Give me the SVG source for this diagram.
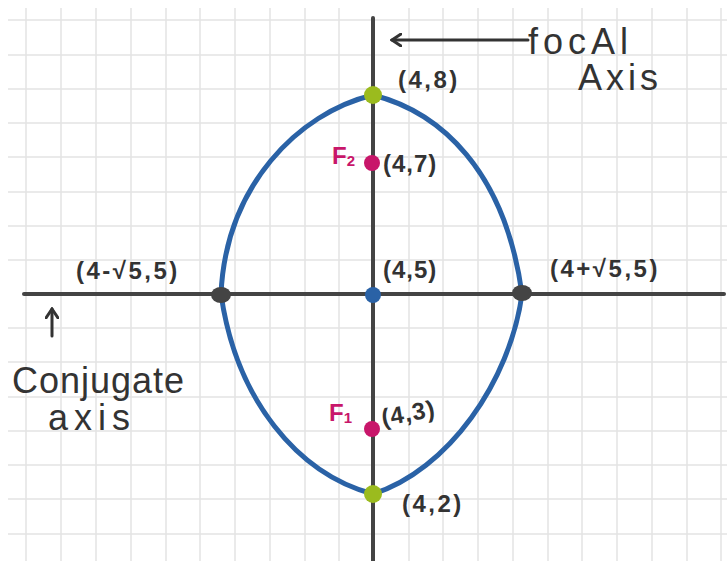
<svg xmlns="http://www.w3.org/2000/svg" width="727" height="561" viewBox="0 0 727 561">
<defs>
<style>
.grid{stroke:#e4e4e4;stroke-width:1.5;fill:none}
.axis{stroke:#444;stroke-width:4;fill:none;stroke-linecap:round}
.lbl{font-family:"Liberation Sans","DejaVu Sans",sans-serif;font-size:24px;fill:#333;font-weight:bold;letter-spacing:2.5px}
.hand{font-family:"Liberation Sans","DejaVu Sans",sans-serif;font-size:36px;fill:#333;letter-spacing:1px}
.foc{font-family:"Liberation Sans","DejaVu Sans",sans-serif;font-size:24px;fill:#c8166a;font-weight:bold}
</style>
<marker id="ah" markerWidth="12" markerHeight="14" refX="10" refY="7" orient="auto" markerUnits="userSpaceOnUse">
<path d="M1,1 L10,7 L1,13" fill="none" stroke="#333" stroke-width="3" stroke-linecap="round"/>
</marker>
</defs>
<rect width="727" height="561" fill="#fff"/>
<g id="grid" class="grid">
<path d="M26,8V561M61,8V561M96,8V561M131,8V561M166,8V561M200,8V561M235,8V561M270,8V561M305,8V561M339,8V561M409,8V561M443,8V561M478,8V561M513,8V561M548,8V561M582,8V561M617,8V561M652,8V561M687,8V561M721,8V561"/>
<path d="M8,20H727M8,55H727M8,89H727M8,123H727M8,157H727M8,192H727M8,226H727M8,260H727M8,328H727M8,362H727M8,397H727M8,431H727M8,465H727M8,499H727M8,534H727"/>
</g>
<g id="axes">
<line class="axis" x1="24" y1="294" x2="724" y2="294"/>
<line class="axis" x1="373" y1="18" x2="373" y2="561"/>
</g>
<g id="ellipse">
<path d="M373,95 C440,112 505,170 522,294 C510,382 448,470 373,494 C298,474 236,400 221,294 C226,186 298,113 373,95 Z" fill="none" stroke="#2a62a6" stroke-width="5"/>
</g>
<g id="points">
<circle id="v-top" cx="373" cy="95" r="9" fill="#9bbb1e"/>
<circle id="f2" cx="372" cy="163" r="8" fill="#c8166a"/>
<circle id="center" cx="373" cy="295" r="8" fill="#2a62a6"/>
<circle id="f1" cx="372" cy="429" r="8" fill="#c8166a"/>
<circle id="v-bot" cx="373" cy="494" r="9" fill="#9bbb1e"/>
<ellipse id="c-left" cx="221" cy="295" rx="10" ry="8" fill="#444"/>
<ellipse id="c-right" cx="522" cy="293" rx="10" ry="8" fill="#444"/>
</g>
<g id="connectors">
<line x1="528" y1="40" x2="392" y2="40" stroke="#333" stroke-width="3" stroke-linecap="round" marker-end="url(#ah)"/>
<line x1="52" y1="336" x2="52" y2="309" stroke="#333" stroke-width="3" stroke-linecap="round" marker-end="url(#ah)"/>
</g>
<g id="labels">
<text class="hand" x="528" y="54" style="letter-spacing:5px">focAl</text>
<text class="hand" x="578" y="90" style="letter-spacing:4px">Axis</text>
<text class="lbl" x="398" y="88">(4,8)</text>
<text class="foc" x="332" y="164">F<tspan font-size="15" dy="2">2</tspan></text>
<text class="lbl" x="383" y="172" style="letter-spacing:1px">(4,7)</text>
<text class="lbl" x="383" y="278" style="letter-spacing:1px">(4,5)</text>
<text class="lbl" x="76" y="279">(4-√5,5)</text>
<text class="lbl" x="550" y="277">(4+√5,5)</text>
<text class="hand" x="12" y="393">Conjugate</text>
<text class="hand" x="48" y="430" style="letter-spacing:6px">axis</text>
<text class="foc" x="329" y="421">F<tspan font-size="15" dy="2">1</tspan></text>
<text class="lbl" x="383" y="426" style="letter-spacing:1px" transform="rotate(-10 383 426)">(4,3)</text>
<text class="lbl" x="402" y="512">(4,2)</text>
</g>
</svg>
